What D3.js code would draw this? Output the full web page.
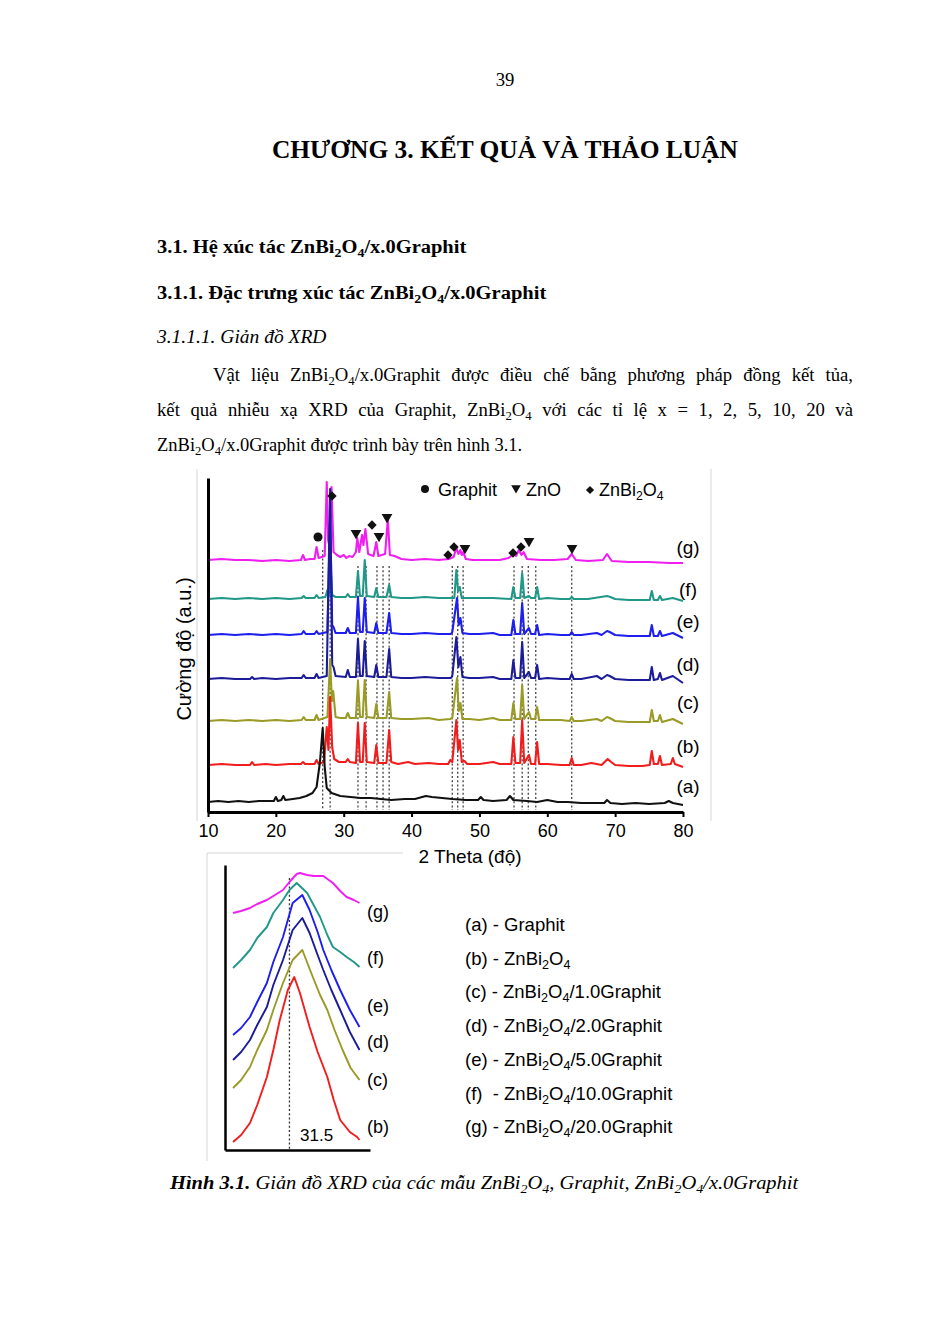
<!DOCTYPE html>
<html><head><meta charset="utf-8">
<script src="https://cdn.jsdelivr.net/npm/d3@7"></script>
<style>html,body{margin:0;padding:0;background:#fff;} svg{display:block}</style>
</head><body>
<svg id="page" width="943" height="1333"></svg>
<script>
// ---------------- DATA ----------------
const pageNumber = "39";
const chapterTitle = "CHƯƠNG 3. KẾT QUẢ VÀ THẢO LUẬN";
const heading1 = "3.1. Hệ xúc tác ZnBi{2}O{4}/x.0Graphit";
const heading2 = "3.1.1. Đặc trưng xúc tác ZnBi{2}O{4}/x.0Graphit";
const heading3 = "3.1.1.1. Giản đồ XRD";
const paraLines = [
  "Vật liệu ZnBi{2}O{4}/x.0Graphit được điều chế bằng phương pháp đồng kết tủa,",
  "kết quả nhiễu xạ XRD của Graphit, ZnBi{2}O{4} với các tỉ lệ x = 1, 2, 5, 10, 20 và",
  "ZnBi{2}O{4}/x.0Graphit được trình bày trên hình 3.1."
];
const captionBold = "Hình 3.1.";
const captionText = " Giản đồ XRD của các mẫu ZnBi{2}O{4}, Graphit, ZnBi{2}O{4}/x.0Graphit";

const xTicks = [10, 20, 30, 40, 50, 60, 70, 80];
const xLabel = "2 Theta (độ)";
const yLabel = "Cường độ (a.u.)";
const seriesKeys = ["(a)", "(b)", "(c)", "(d)", "(e)", "(f)", "(g)"];
const offsets = [10, 47, 91, 133, 177, 213, 252];

// 2θ (deg), intensity (a.u.) above each trace's own baseline
const xrdA = [[10,0],[11.5,1],[13,0],[14.5,1],[16,0],[17.5,1],[19,1],[19.7,1],[20.0,5],[20.3,1],[20.8,2],[21.1,6],[21.4,2],[22.5,3],[23.5,4],[24.5,6],[25.4,9],[26.0,15],[26.5,40],[26.9,74],[27.2,35],[27.5,14],[28.2,9],[29.5,6],[31,5],[32.5,4],[34,4],[35.5,3],[37,2],[39,3],[40.5,3],[42.1,6],[43,5],[44.5,4],[46,3],[48,2],[49.8,2],[50.2,5],[50.6,2],[52,1],[54,2],[54.5,6],[55.0,2],[57,1],[58.5,0],[60,2],[61.5,0],[63,0],[65,-1],[67,-1],[68.4,-1],[68.8,2],[69.3,-1],[71,-2],[73,-1],[75,-2],[77.3,-1],[77.9,1],[78.5,-1],[80,-3]];
const xrdB = [[10,0],[12,1],[14,0],[16.2,0],[16.5,3],[16.8,0],[18.5,1],[20,0],[22,1],[23.7,1],[24.0,3],[24.3,1],[25.7,1],[26.0,5],[26.3,1],[27.1,3],[27.5,38],[27.75,15],[28.0,68],[28.3,18],[28.6,6],[29.3,3],[30.3,3],[30.6,6],[30.9,3],[31.8,2],[32.1,42],[32.4,3],[32.8,3],[33.1,42],[33.4,3],[34.5,2],[34.8,20],[35.1,2],[36.3,2],[36.7,35],[37.0,3],[38,1],[39.5,3],[40.5,1],[42.5,2],[44,1],[45.4,1],[45.7,5],[46.0,3],[46.6,45],[46.85,15],[47.1,25],[47.4,3],[47.8,4],[48.2,1],[50,1],[52,3],[53,1],[54.7,1],[55.0,28],[55.3,2],[56.0,2],[56.3,45],[56.6,2],[57.3,10],[57.6,1],[58.2,1],[58.5,23],[58.8,1],[60,1],[62,0],[63.3,0],[63.6,7],[63.9,0],[65,0],[66.5,2],[68,0],[68.9,6],[69.4,3],[70,0],[72,-1],[74,-1],[75.1,0],[75.4,14],[75.7,1],[76.3,1],[76.6,9],[76.9,0],[78.2,1],[78.5,7],[78.8,1],[80,-2]];
const xrdC = [[10,0],[12,1],[14,0],[16,1],[18,0],[20,1],[22,0],[23.8,1],[24.1,4],[24.4,1],[25.7,1],[26.0,6],[26.3,1],[27.6,4],[28.0,62],[28.25,20],[28.45,30],[28.8,4],[29.5,3],[30.3,3],[30.6,8],[30.9,3],[31.8,3],[32.1,40],[32.4,4],[32.8,4],[33.1,41],[33.4,4],[34.5,3],[34.8,17],[35.1,3],[36.3,3],[36.7,29],[37.0,3],[38.5,2],[40,2],[42.5,3],[44,1],[45.7,2],[46.0,3],[46.7,43],[46.95,10],[47.2,18],[47.5,2],[48.5,2],[50,1],[52,3],[53,1],[54.7,1],[55.0,18],[55.3,2],[56.0,2],[56.3,36],[56.6,2],[57.3,9],[57.6,2],[58.2,2],[58.5,14],[58.8,1],[60,1],[62,1],[63.3,0],[63.6,4],[63.9,0],[65,0],[67.3,2],[68,0],[68.8,4],[69.2,3],[70,0],[72,-1],[74,-1],[75.1,-1],[75.4,11],[75.7,0],[76.3,0],[76.6,6],[76.9,-1],[78.5,2],[80,-3]];
const xrdD = [[10,0],[12,1],[14,0],[16.2,0],[16.5,2],[16.8,0],[18,1],[20,0],[22,1],[23.8,1],[24.1,4],[24.4,1],[25.7,1],[26.0,5],[26.3,1],[27.5,3],[28.0,190],[28.3,14],[28.5,12],[28.8,3],[30.3,2],[30.6,9],[30.9,2],[31.8,2],[32.1,40],[32.4,3],[32.8,3],[33.1,38],[33.4,3],[34.5,2],[34.8,14],[35.1,2],[36.3,2],[36.7,30],[37.0,2],[38.5,1],[40,1],[42,2],[44,1],[45.8,1],[46.0,3],[46.6,42],[46.9,12],[47.2,22],[47.5,2],[48.5,1],[50,1],[52,2],[53,0],[54.7,0],[55.0,19],[55.3,1],[56.0,1],[56.3,37],[56.6,1],[57.3,7],[57.6,1],[58.2,1],[58.5,14],[58.8,0],[60,1],[62,0],[63.3,0],[63.6,5],[63.9,0],[65,0],[67.3,3],[68,0],[68.8,4],[69.2,3],[70,0],[72,-1],[74,-1],[75.1,-1],[75.4,12],[75.7,-1],[76.3,0],[76.6,6],[76.9,-1],[78.5,3],[80,-4]];
const xrdE = [[10,0],[12,1],[14,0],[16,1],[18,0],[20,1],[22,0],[23.8,1],[24.1,4],[24.4,1],[25.7,1],[26.0,4],[26.3,1],[27.6,3],[28.0,120],[28.3,10],[28.5,8],[28.8,2],[30.3,2],[30.6,7],[30.9,2],[31.8,2],[32.1,38],[32.4,3],[32.8,3],[33.1,37],[33.4,3],[34.5,2],[34.8,12],[35.1,2],[36.3,2],[36.7,22],[37.0,2],[38.5,1],[40,1],[42,2],[44,1],[45.8,1],[46.0,3],[46.7,37],[46.95,10],[47.2,17],[47.5,2],[48.5,1],[50,1],[52,2],[53,0],[54.7,0],[55.0,15],[55.3,1],[56.0,1],[56.3,32],[56.6,1],[57.3,7],[57.6,1],[58.2,1],[58.5,10],[58.8,0],[60,1],[62,0],[63.3,0],[63.6,3],[63.9,0],[65,0],[67.3,2],[68,0],[68.8,4],[69.2,3],[70,0],[72,-1],[74,-1],[75.1,-1],[75.4,10],[75.7,-1],[76.3,-1],[76.6,4],[76.9,-1],[78.5,2],[80,-3]];
const xrdF = [[10,0],[12,1],[14,0],[16,1],[18,0],[20,1],[22,0],[23.8,1],[24.1,3],[24.4,1],[25.7,1],[26.0,4],[26.3,1],[27.3,2],[27.6,9],[27.8,4],[28.0,40],[28.3,4],[28.8,2],[30.3,2],[30.6,5],[30.9,2],[31.8,2],[32.1,28],[32.4,3],[32.8,3],[33.1,39],[33.4,3],[34.5,2],[34.8,11],[35.1,2],[36.3,2],[36.7,14],[37.0,2],[38.5,1],[40,1],[42,2],[44,1],[46.3,1],[46.6,29],[46.85,8],[47.1,12],[47.4,1],[48.5,1],[50,1],[52,1],[54.7,0],[55.0,12],[55.3,1],[56.0,1],[56.3,26],[56.6,1],[57.3,3],[57.6,1],[58.2,1],[58.5,12],[58.8,0],[60,1],[62,0],[63.3,0],[63.6,2],[63.9,0],[66,0],[68.8,3],[69.3,2],[70,0],[72,-1],[74,-1],[75.1,-1],[75.4,8],[75.7,-1],[76.3,-1],[76.6,3],[76.9,-1],[78.5,1],[80,-2]];
const xrdG = [[10,0],[12,1],[14,0],[16,0],[18,-1],[20,0],[22,-1],[23.7,0],[24.0,5],[24.3,0],[25.0,1],[25.7,1],[26.0,13],[26.3,2],[27.2,4],[27.5,78],[27.7,20],[27.85,15],[28.2,73],[28.5,8],[29.0,5],[29.5,3],[30.0,5],[30.4,2],[30.8,4],[31.3,3],[31.8,8],[32.0,22],[32.3,8],[32.7,25],[32.9,15],[33.2,31],[33.6,6],[34.4,4],[34.8,18],[35.1,4],[35.6,5],[36.1,6],[36.5,41],[36.8,5],[37.5,4],[38.5,1],[40,0],[42,1],[44,0],[45.5,1],[46.2,3],[46.6,12],[46.9,6],[47.2,10],[47.4,5],[47.6,8],[48.0,1],[49,0],[51,0],[53,0],[54.3,2],[55.0,6],[55.4,4],[55.8,10],[56.2,5],[56.5,8],[57.0,1],[59,0],[61,0],[63.0,1],[63.6,6],[64.2,0],[66,-1],[68.2,0],[68.8,6],[69.5,-1],[72,-2],[75,-2],[78,-3],[80,-3]];

// reference drop lines (2θ)
const dropLines = [26.9, 28.0, 32.1, 33.3, 34.9, 35.8, 36.7, 46.0, 46.8, 47.6, 55.1, 56.3, 57.2, 58.3, 63.6];
// phase markers [2θ, intensity]
const graphitMarks = [[26.21, 275]];
const zboMarks = [[28.27, 316], [34.17, 287], [45.37, 257], [46.25, 265], [54.95, 259], [56.12, 265]];
const znoMarks = [[31.81, 279], [35.20, 276], [36.38, 295], [47.87, 264], [57.30, 271], [63.64, 264]];
const legendNames = ["Graphit", "ZnO", "ZnBi{2}O{4}"];

// inset: zoom around 31.5°
const insetKeys = ["(b)", "(c)", "(d)", "(e)", "(f)", "(g)"];
const insetB = [[30.80,8],[30.9,15],[31.01,27],[31.1,45],[31.22,73],[31.3,100],[31.38,130],[31.48,160],[31.56,173],[31.63,157],[31.75,123],[31.85,98],[31.97,73],[32.05,50],[32.13,30],[32.25,18],[32.34,13],[32.37,10]];
const insetC = [[30.80,62],[30.9,70],[31.01,83],[31.1,100],[31.22,120],[31.3,140],[31.42,167],[31.54,190],[31.66,200],[31.79,173],[31.88,155],[31.97,140],[32.06,120],[32.16,100],[32.26,82],[32.37,70]];
const insetD = [[30.80,90],[30.9,98],[31.01,110],[31.1,125],[31.22,143],[31.3,165],[31.42,190],[31.54,220],[31.66,232],[31.75,217],[31.85,195],[31.92,180],[32.02,160],[32.13,140],[32.25,118],[32.37,100]];
const insetE = [[30.80,115],[30.9,122],[31.01,133],[31.1,148],[31.22,167],[31.3,188],[31.42,213],[31.54,247],[31.66,255],[31.75,240],[31.85,218],[31.92,200],[32.02,180],[32.13,160],[32.25,140],[32.37,123]];
const insetF = [[30.80,182],[30.9,190],[31.01,200],[31.1,212],[31.22,223],[31.3,237],[31.42,250],[31.5,260],[31.59,267],[31.72,257],[31.8,245],[31.88,233],[31.97,215],[32.04,203],[32.13,198],[32.21,193],[32.3,188],[32.37,183]];
const insetG = [[30.80,237],[30.9,239],[31.01,242],[31.1,246],[31.22,250],[31.3,254],[31.42,260],[31.5,268],[31.59,276],[31.63,277],[31.72,275],[31.8,274],[31.92,274],[32.04,267],[32.13,259],[32.21,253],[32.3,250],[32.37,247]];
const insetMark = 31.5;
const legendLines = [
  "(a) - Graphit",
  "(b) - ZnBi{2}O{4}",
  "(c) - ZnBi{2}O{4}/1.0Graphit",
  "(d) - ZnBi{2}O{4}/2.0Graphit",
  "(e) - ZnBi{2}O{4}/5.0Graphit",
  "(f)  - ZnBi{2}O{4}/10.0Graphit",
  "(g) - ZnBi{2}O{4}/20.0Graphit"
];

// ---------------- DRAWING ----------------
const colors = ["#111111", "#f21c1c", "#9a9a26", "#1c1c98", "#1e1eee", "#209888", "#f01ef0"];
const SERIF = "'Liberation Serif','Times New Roman',serif";
const SANS = "'Liberation Sans',Arial,sans-serif";
const svg = d3.select('#page');
svg.append('rect').attr('width', 943).attr('height', 1333).attr('fill', '#fff');

function rich(sel, str, fs) {
  const parts = str.split(/\{([^}]*)\}/);
  parts.forEach((p, i) => {
    if (!p) return;
    if (i % 2 === 1) sel.append('tspan').attr('font-size', fs * 0.68).attr('dy', fs * 0.22).text(p);
    else { const t = sel.append('tspan').text(p); if (i > 0) t.attr('dy', -fs * 0.22); }
  });
  return sel;
}
function fitX(sel, x0, x1) {
  const w = sel.node().getBBox().width;
  const k = (x1 - x0) / w;
  sel.attr('transform', `translate(${x0},0) scale(${k},1) translate(${-x0},0)`);
}
function textLine(str, x, y, fs, opts = {}) {
  const t = svg.append('text').attr('x', x).attr('y', y)
    .attr('font-family', opts.font || SERIF).attr('font-size', fs)
    .attr('font-weight', opts.bold ? 'bold' : 'normal')
    .attr('font-style', opts.italic ? 'italic' : 'normal')
    .attr('text-anchor', opts.anchor || 'start').attr('fill', '#000')
    .style('white-space', 'pre');
  rich(t, str, fs);
  return t;
}
function justify(str, x0, x1, y, fs) {
  const words = str.split(' ');
  const nodes = words.map(w => textLine(w, x0, y, fs));
  const widths = nodes.map(n => n.node().getComputedTextLength());
  const gap = (x1 - x0 - d3.sum(widths)) / (words.length - 1);
  let x = x0;
  nodes.forEach((n, i) => { n.attr('x', x); x += widths[i] + gap; });
}

// page text
textLine(pageNumber, 505, 86, 18.7, { anchor: 'middle' });
fitX(textLine(chapterTitle, 272, 158, 25, { bold: true }), 272, 738);
fitX(textLine(heading1, 157, 253, 18.7, { bold: true }), 157, 467);
fitX(textLine(heading2, 157, 299, 18.7, { bold: true }), 157, 547);
fitX(textLine(heading3, 157, 343, 18.7, { italic: true }), 157, 328);
justify(paraLines[0], 213, 853, 381, 18.7);
justify(paraLines[1], 157, 853, 416, 18.7);
fitX(textLine(paraLines[2], 157, 451, 18.7), 157, 522);

// caption
{
  const t = svg.append('text').attr('x', 170).attr('y', 1189).attr('font-family', SERIF)
    .attr('font-size', 18.7).attr('font-style', 'italic').style('white-space', 'pre');
  t.append('tspan').attr('font-weight', 'bold').text(captionBold);
  rich(t, captionText, 18.7);
  fitX(t, 170, 800);
}

// ---- main chart ----
svg.append('path').attr('d', 'M197,469V821M711,469V821').attr('stroke', '#d6d6d6').attr('fill', 'none');
const x = d3.scaleLinear().domain([10, 80]).range([208, 683]);
const y = d3.scaleLinear().domain([0, 334]).range([812, 478]);
const line = d3.line().x(d => x(d[0])).y(d => y(d[1]));

const gDrop = svg.append('g');
dropLines.forEach((p, i) => {
  gDrop.append('line').attr('x1', x(p)).attr('x2', x(p))
    .attr('y1', y(i === 0 ? 262 : 246)).attr('y2', y(2))
    .attr('stroke', '#444').attr('stroke-width', 1.3).attr('stroke-dasharray', '2,2.2');
});

const allSeries = [xrdA, xrdB, xrdC, xrdD, xrdE, xrdF, xrdG];
for (let i = allSeries.length - 1; i >= 0; i--) {
  svg.append('path').datum(allSeries[i].map(d => [d[0], d[1] + offsets[i]]))
    .attr('d', line).attr('fill', 'none').attr('stroke', colors[i])
    .attr('stroke-width', 2.1).attr('stroke-linejoin', 'round');
}

// axes
const gx = svg.append('g').attr('transform', 'translate(0,812)')
  .call(d3.axisBottom(x).tickValues(xTicks).tickSize(5).tickSizeOuter(0).tickPadding(7));
gx.select('.domain').attr('stroke', '#000').attr('stroke-width', 3);
gx.selectAll('.tick line').attr('stroke', '#000').attr('stroke-width', 2);
gx.selectAll('.tick text').attr('font-family', SANS).attr('font-size', 18).attr('fill', '#000');
const gy = svg.append('g').attr('transform', 'translate(208,0)')
  .call(d3.axisLeft(y).tickValues([]).tickSizeOuter(0));
gy.select('.domain').attr('stroke', '#000').attr('stroke-width', 3);

svg.append('text').attr('x', 470).attr('y', 863).attr('text-anchor', 'middle')
  .attr('font-family', SANS).attr('font-size', 19).text(xLabel);
svg.append('text').attr('transform', 'translate(191,649) rotate(-90)').attr('text-anchor', 'middle')
  .attr('font-family', SANS).attr('font-size', 20).text(yLabel);

const labelY = [793, 753, 709, 671, 628, 596, 554];
seriesKeys.forEach((k, i) => {
  svg.append('text').attr('x', 688).attr('y', labelY[i]).attr('text-anchor', 'middle')
    .attr('font-family', SANS).attr('font-size', 19).text(k);
});

// markers
const circ = d3.symbol().type(d3.symbolCircle).size(64);
const tri = d3.symbol().type(d3.symbolTriangle).size(50);
const dia = d3.symbol().type(d3.symbolSquare).size(44);
graphitMarks.forEach(d => svg.append('path').attr('d', circ()).attr('fill', '#111')
  .attr('transform', `translate(${x(d[0])},${y(d[1])})`));
znoMarks.forEach(d => svg.append('path').attr('d', tri()).attr('fill', '#111')
  .attr('transform', `translate(${x(d[0])},${y(d[1])}) rotate(180)`));
zboMarks.forEach(d => svg.append('path').attr('d', dia()).attr('fill', '#111')
  .attr('transform', `translate(${x(d[0])},${y(d[1])}) rotate(45)`));

// legend
svg.append('path').attr('d', d3.symbol().type(d3.symbolCircle).size(50)()).attr('fill', '#111').attr('transform', 'translate(425,489)');
svg.append('path').attr('d', d3.symbol().type(d3.symbolTriangle).size(40)()).attr('fill', '#111').attr('transform', 'translate(516,488) rotate(180)');
svg.append('path').attr('d', d3.symbol().type(d3.symbolSquare).size(34)()).attr('fill', '#111').attr('transform', 'translate(590,490) rotate(45)');
[[438], [526], [599]].forEach((p, i) => {
  const t = svg.append('text').attr('x', p[0]).attr('y', 496).attr('font-family', SANS).attr('font-size', 18);
  rich(t, legendNames[i], 18);
});

// ---- inset ----
svg.append('path').attr('d', 'M207,1161V853H403').attr('stroke', '#d6d6d6').attr('fill', 'none');
const xi = d3.scaleLinear().domain([30.7, 32.5]).range([225, 370]);
const yi = d3.scaleLinear().domain([0, 285]).range([1150, 865]);
const linei = d3.line().x(d => xi(d[0])).y(d => yi(d[1]));
svg.append('line').attr('x1', xi(insetMark)).attr('x2', xi(insetMark)).attr('y1', yi(272)).attr('y2', yi(0))
  .attr('stroke', '#333').attr('stroke-width', 1.3).attr('stroke-dasharray', '2,2.2');
const insetSeries = [insetB, insetC, insetD, insetE, insetF, insetG];
insetSeries.forEach((s, i) => {
  svg.append('path').datum(s).attr('d', linei).attr('fill', 'none')
    .attr('stroke', colors[i + 1]).attr('stroke-width', 1.9).attr('stroke-linejoin', 'round');
});
const gxi = svg.append('g').attr('transform', 'translate(0,1150)')
  .call(d3.axisBottom(xi).tickValues([]).tickSizeOuter(0));
gxi.select('.domain').attr('stroke', '#000').attr('stroke-width', 2.5);
const gyi = svg.append('g').attr('transform', 'translate(225,0)')
  .call(d3.axisLeft(yi).tickValues([]).tickSizeOuter(0));
gyi.select('.domain').attr('stroke', '#000').attr('stroke-width', 2.5);
svg.append('text').attr('x', 300).attr('y', 1141).attr('font-family', SANS).attr('font-size', 17).text(String(insetMark));
const insetLabelY = [1133, 1086, 1048, 1012, 964, 918];
insetKeys.forEach((k, i) => {
  svg.append('text').attr('x', 367).attr('y', insetLabelY[i]).attr('font-family', SANS).attr('font-size', 18).text(k);
});

// sample legend
legendLines.forEach((s, i) => {
  const t = svg.append('text').attr('x', 465).attr('y', 931 + i * 33.7).attr('font-family', SANS)
    .attr('font-size', 18.5).style('white-space', 'pre');
  rich(t, s, 18.5);
});
</script>
</body></html>
